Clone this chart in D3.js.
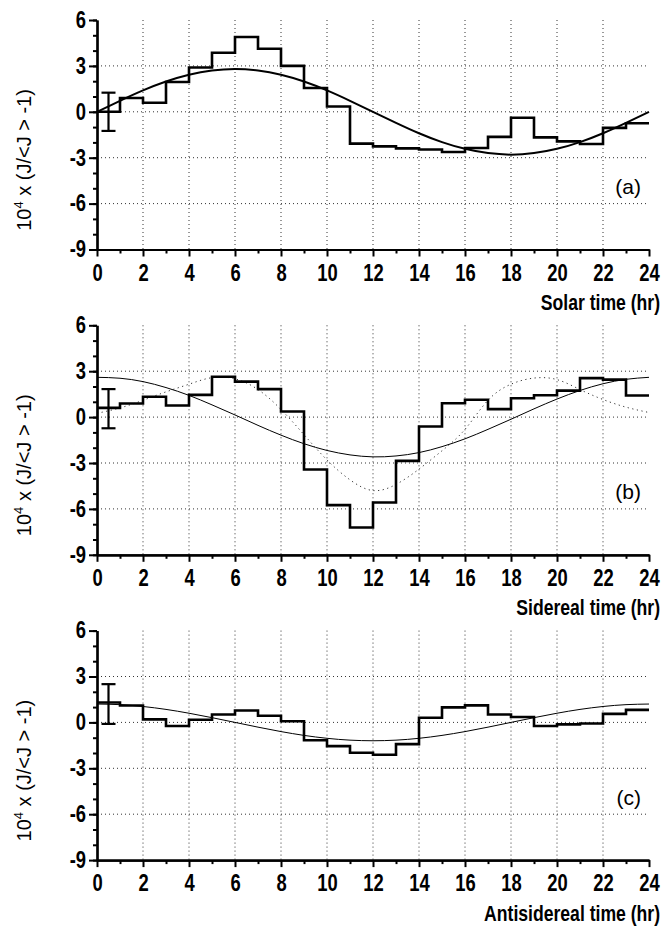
<!DOCTYPE html>
<html>
<head>
<meta charset="utf-8">
<script src="https://cdn.jsdelivr.net/npm/d3@7"></script>
<style>
body { margin: 0; background: #fff; }
svg text { fill: #000; }
.lbl { font-family: "Liberation Sans", Arial, sans-serif; font-weight: bold; }
.reg { font-family: "Liberation Sans", Arial, sans-serif; font-weight: normal; }
</style>
</head>
<body>
<svg id="chart" width="663" height="933"></svg>
<script>
// hours (bin edges / curve sample points)
var hours = [0, 1, 2, 3, 4, 5, 6, 7, 8, 9, 10, 11, 12, 13, 14, 15, 16, 17, 18, 19, 20, 21, 22, 23, 24]
var xTickLabels = [0, 2, 4, 6, 8, 10, 12, 14, 16, 18, 20, 22, 24]
var yTickLabels = [6, 3, 0, -3, -6, -9]

// (a) solar time : 1 hr bins + fitted curve
var solarBins = [0.0, 0.9, 0.59, 1.95, 2.9, 3.86, 4.89, 4.12, 3.0, 1.56, 0.35, -2.08,
    -2.26, -2.39, -2.46, -2.63, -2.37, -1.64, -0.39, -1.67, -1.93, -2.1, -1.05, -0.75]
var solarFit = [0, 0.72, 1.4, 1.98, 2.42, 2.7, 2.8, 2.7, 2.42, 1.98, 1.4, 0.72, 0,
    -0.72, -1.4, -1.98, -2.42, -2.7, -2.8, -2.7, -2.42, -1.98, -1.4, -0.72, 0]

// (b) sidereal time
var siderealBins = [0.6, 0.89, 1.33, 0.76, 1.45, 2.64, 2.32, 1.83, 0.37, -3.42, -5.75, -7.22,
    -5.58, -2.86, -0.61, 0.91, 1.13, 0.52, 1.23, 1.43, 1.73, 2.55, 2.45, 1.41]
var siderealFit = [2.6, 2.54, 2.32, 1.93, 1.42, 0.8, 0.14, -0.54, -1.18, -1.74, -2.18, -2.47, -2.6,
    -2.54, -2.32, -1.93, -1.42, -0.8, -0.14, 0.54, 1.18, 1.74, 2.18, 2.47, 2.6]
var siderealDotted = [0.25, 0.6, 1.1, 1.65, 2.15, 2.58, 2.5, 1.8, 0.5, -1.15, -2.8, -4.1, -4.8,
    -4.4, -3.4, -2.2, -0.8, 1.1, 2.15, 2.55, 2.45, 1.8, 1.15, 0.65, 0.3]

// (c) antisidereal time
var antiBins = [1.3, 1.1, 0.2, -0.24, 0.17, 0.52, 0.78, 0.43, 0.08, -1.17, -1.55, -1.98,
    -2.11, -1.42, 0.3, 0.98, 1.11, 0.52, 0.35, -0.24, -0.13, -0.07, 0.56, 0.82]
var antiFit = [1.2, 1.16, 1.04, 0.85, 0.6, 0.31, 0, -0.31, -0.6, -0.85, -1.04, -1.16, -1.2,
    -1.16, -1.04, -0.85, -0.6, -0.31, 0, 0.31, 0.6, 0.85, 1.04, 1.16, 1.2]

// error bar at the first bin of each panel
var errX = 0.5
var errCenter = [0.0, 0.55, 1.2]
var errHalf = [1.25, 1.28, 1.3]

var panelLetters = ['(a)', '(b)', '(c)']
var xTitles = ['Solar time (hr)', 'Sidereal time (hr)', 'Antisidereal time (hr)']

var svg = d3.select('#chart')
var PlotLeft = 97, PlotRight = 649, PlotTop = 20, PlotH = 229.5, PanelStep = 305.3
var Narrow = 0.8   // squeeze bold labels to look like a narrow face

var x = d3.scaleLinear().domain([0, 24]).range([PlotLeft, PlotRight])

var panels = [
    { bins: solarBins, curves: [{ v: solarFit, w: 2, dash: null }] },
    { bins: siderealBins, curves: [{ v: siderealFit, w: 1, dash: null }, { v: siderealDotted, w: 1, dash: '1.2,3.5' }] },
    { bins: antiBins, curves: [{ v: antiFit, w: 1, dash: null }] }
]

function squeeze (sel) {
    sel.each(function () {
        var t = d3.select(this)
        var tx = +t.attr('x') || 0, ty = +t.attr('y') || 0
        t.attr('x', 0).attr('y', 0)
            .attr('transform', `translate(${tx},${ty}) scale(${Narrow},1)`)
    })
}

panels.forEach(function (p, i) {
    var top = PlotTop + PanelStep * i
    var y = d3.scaleLinear().domain([-9, 6]).range([top + PlotH, top])
    var g = svg.append('g')

    // grid
    g.selectAll('.vgrid').data(xTickLabels.slice(1, -1)).enter().append('line')
        .attr('x1', d => x(d)).attr('x2', d => x(d))
        .attr('y1', y(6)).attr('y2', y(-9))
        .attr('stroke', '#333').attr('stroke-width', 1).attr('stroke-dasharray', '1,3')
    g.selectAll('.hgrid').data([3, 0, -3, -6]).enter().append('line')
        .attr('x1', x(0)).attr('x2', x(24))
        .attr('y1', d => y(d)).attr('y2', d => y(d))
        .attr('stroke', '#333').attr('stroke-width', 1).attr('stroke-dasharray', '1,3')

    // fitted curves
    p.curves.forEach(function (c) {
        var line = d3.line().x((d, k) => x(hours[k])).y(d => y(d)).curve(d3.curveNatural)
        g.append('path').datum(c.v)
            .attr('d', line)
            .attr('fill', 'none')
            .attr('stroke', c.dash ? '#333' : '#000')
            .attr('stroke-width', c.w)
            .attr('stroke-dasharray', c.dash)
    })

    // histogram (step)
    var stepPts = p.bins.map((v, k) => [hours[k], v])
    stepPts.push([24, p.bins[p.bins.length - 1]])
    var stepLine = d3.line().x(d => x(d[0])).y(d => y(d[1])).curve(d3.curveStepAfter)
    g.append('path').datum(stepPts)
        .attr('d', stepLine)
        .attr('fill', 'none').attr('stroke', '#000').attr('stroke-width', 2.6)

    // error bar
    var ex = x(errX), eTop = y(errCenter[i] + errHalf[i]), eBot = y(errCenter[i] - errHalf[i])
    g.append('line').attr('x1', ex).attr('x2', ex).attr('y1', eTop).attr('y2', eBot)
        .attr('stroke', '#000').attr('stroke-width', 2.2)
    ;[eTop, eBot].forEach(function (yy) {
        g.append('line').attr('x1', ex - 7).attr('x2', ex + 7).attr('y1', yy).attr('y2', yy)
            .attr('stroke', '#000').attr('stroke-width', 2.2)
    })

    // axes: minor ticks then major ticks with labels
    var yMinor = d3.axisLeft(y).tickValues(d3.range(-9, 7)).tickSize(4).tickFormat('').tickSizeOuter(0)
    var yMajor = d3.axisLeft(y).tickValues(yTickLabels).tickSize(8).tickPadding(3)
        .tickFormat(d => String(d)).tickSizeOuter(0)
    var xMinor = d3.axisBottom(x).tickValues(hours.filter(h => h % 2 === 1)).tickSize(4).tickFormat('').tickSizeOuter(0)
    var xMajor = d3.axisBottom(x).tickValues(xTickLabels).tickSize(7).tickPadding(8)
        .tickFormat(d => String(d)).tickSizeOuter(0)

    ;[yMinor, yMajor].forEach(function (ax) {
        g.append('g').attr('transform', `translate(${x(0)},0)`).call(ax)
    })
    ;[xMinor, xMajor].forEach(function (ax) {
        g.append('g').attr('transform', `translate(0,${y(-9)})`).call(ax)
    })
    g.selectAll('.domain').attr('stroke', '#000').attr('stroke-width', 2.2)
    g.selectAll('.tick line').attr('stroke', '#000').attr('stroke-width', 2)
    g.selectAll('.tick text').attr('class', 'lbl').attr('font-size', 23).attr('font-family', null)
        .call(squeeze)

    // panel letter
    g.append('text').attr('class', 'reg')
        .attr('x', 641).attr('y', top + 174)
        .attr('text-anchor', 'end').attr('font-size', 21)
        .text(panelLetters[i])

    // x title
    g.append('text').attr('class', 'lbl')
        .attr('x', 660).attr('y', top + 290)
        .attr('text-anchor', 'end').attr('font-size', 22)
        .text(xTitles[i])
        .call(squeeze)

    // y title
    var yt = g.append('text').attr('class', 'reg')
        .attr('transform', `translate(31,${top + 140}) rotate(-90)`)
        .attr('text-anchor', 'middle').attr('font-size', 20)
    yt.append('tspan').text('10')
    yt.append('tspan').attr('font-size', 13).attr('dy', -8).text('4')
    yt.append('tspan').attr('dy', 8).text(' x (J/<J > -1)')
})
</script>
</body>
</html>
